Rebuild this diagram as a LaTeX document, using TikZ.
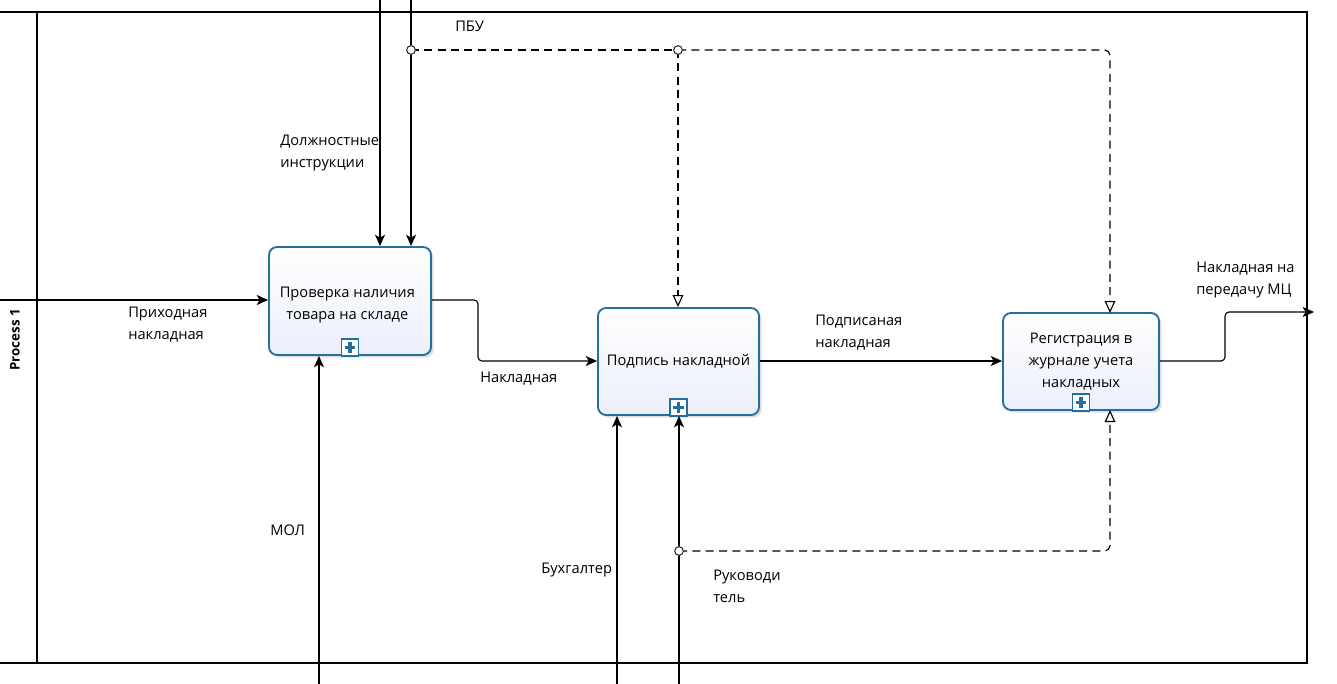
\documentclass[tikz,border=0pt]{standalone}
\usepackage{fontspec}
\setmainfont{Open Sans}
\usetikzlibrary{arrows.meta,shadows}
\definecolor{bord}{HTML}{23709E}
\definecolor{boxfill}{HTML}{ECEFFB}
\begin{document}
\begin{tikzpicture}[x=0.75pt,y=-0.75pt,
  lbl/.style={font=\fontsize{11}{16.5}\selectfont, align=left, anchor=north west, inner sep=0pt},
  proc/.style={draw=bord, line width=1.4pt, rounded corners=6pt, top color=white, bottom color=boxfill,
    font=\fontsize{11}{16.5}\selectfont, align=center, inner sep=2pt,
    drop shadow={shadow xshift=2pt, shadow yshift=-2pt, opacity=0.25}},
  plusbox/.style={draw=bord, fill=white, line width=1.1pt, minimum size=12.5pt, inner sep=0pt},
  plusline/.style={draw=bord, line width=2.4pt},
  frame/.style={line width=1.1pt},
  arr/.style={line width=0.85pt, -{Stealth[length=8.5pt,width=7.5pt,inset=2.2pt]}},
  darr/.style={line width=0.85pt, dash pattern=on 6pt off 4pt, -{Triangle[open,length=9pt,width=8pt,fill=white]}},
  dline/.style={line width=0.85pt, dash pattern=on 6pt off 4pt},
  junc/.style={circle, draw=black!80, fill=white, line width=0.8pt, inner sep=0pt, minimum size=6.5pt}]
\useasboundingbox (0,0) rectangle (1337,684);
% frame
\draw[frame] (0,12) -- (1307,12) -- (1307,663) -- (0,663);
\draw[frame] (37,12) -- (37,663);
\node[rotate=90, font=\fontsize{10}{12}\selectfont\bfseries] (lane) at (15,340) {Process 1};
% boxes
\node[proc, minimum width=121.5pt, minimum height=81pt,
  label={[font=\fontsize{11}{16.5}\selectfont, align=center, yshift=-3pt, xshift=-2pt]center:Проверка наличия\\товара на складе}] (b1) at (350,301) {};
\node[proc, minimum width=120.75pt, minimum height=80.25pt] (b2) at (678.5,361.5) {Подпись накладной};
\node[proc, minimum width=117pt, minimum height=72.75pt] (b3) at (1081,361.5) {Регистрация в\\журнале учета\\накладных};
% plus icons
\foreach \b/\p in {b1/p1,b2/p2,b3/p3}{
  \node[plusbox, anchor=south] (\p) at ([yshift=-0.5pt]\b.south) {};
  \draw[plusline] ([xshift=-3.8pt]\p.center) -- ([xshift=3.8pt]\p.center);
  \draw[plusline] ([yshift=-3.8pt]\p.center) -- ([yshift=3.8pt]\p.center);
}
% coordinates
\coordinate (inS) at (0,300);
\coordinate (ctl1) at (380,0);
\coordinate (ctl2) at (411,0);
\coordinate (j1) at (411,50);
\coordinate (j2) at (678,50);
\coordinate (b3top) at (1110,313);
\coordinate (b3bot) at (1110,410);
\coordinate (j3) at (679,551);
\coordinate (molS) at (319,684);
\coordinate (buhS) at (617,684);
\coordinate (rukS) at (679,684);
\coordinate (outE) at (1314,312);
% solid connectors
\draw[arr] (inS) -- (inS -| b1.west);
\draw[arr] (ctl1) -- (ctl1 |- b1.north);
\draw[arr] (ctl2) -- (ctl2 |- b1.north);
\draw[arr, rounded corners=3pt] (b1.east |- 0,300) -- (478,300) -- (478,361) -- (b2.west |- 0,361);
\draw[arr] (b2.east |- 0,361) -- (b3.west |- 0,361);
\draw[arr, rounded corners=3pt] (b3.east |- 0,361) -- (1225,361) -- (1225,312) -- (outE);
\draw[arr] (molS) -- (molS |- b1.south);
\draw[arr] (buhS) -- (buhS |- b2.south);
\draw[arr] (rukS) -- (rukS |- b2.south);
% dashed connectors
\draw[dline] (j1) -- (j2);
\draw[darr, rounded corners=4pt] (j2) -- (j2 -| b3top) -- (b3top);
\draw[darr] (j2) -- (j2 |- b2.north);
\draw[darr, rounded corners=4pt] (j3) -- (j3 -| b3bot) -- (b3bot);
\node[junc] (cj1) at (j1) {};
\node[junc] (cj2) at (j2) {};
\node[junc] (cj3) at (j3) {};
% labels
\node[lbl] (l1) at (128,307) {Приходная\\накладная};
\node[lbl] (l2) at (280,135) {Должностные\\инструкции};
\node[lbl] (l3) at (455,21) {ПБУ};
\node[lbl] (l4) at (480,372) {Накладная};
\node[lbl] (l5) at (815,315) {Подписаная\\накладная};
\node[lbl] (l6) at (1196,262) {Накладная на\\передачу МЦ};
\node[lbl] (l7) at (270,525) {МОЛ};
\node[lbl] (l8) at (541,563) {Бухгалтер};
\node[lbl] (l9) at (713,570) {Руководи\\тель};
\end{tikzpicture}
\end{document}
